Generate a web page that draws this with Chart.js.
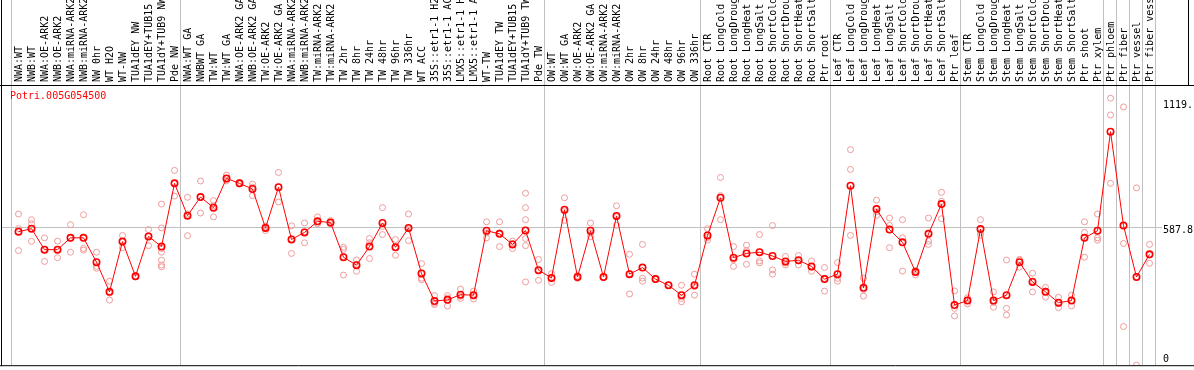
<!DOCTYPE html>
<html><head><meta charset="utf-8">
<script src="https://cdn.jsdelivr.net/npm/chart.js@4/dist/chart.umd.min.js"></script>
<style>html,body{margin:0;padding:0;background:#fff;overflow:hidden}#wrap{width:1194px;height:370px;position:relative}</style>
</head><body><div id="wrap"><canvas id="c"></canvas></div>
<script>
const geneName = "Potri.005G054500";
const categories = [
"NWA:WT","NWB:WT","NWA:OE-ARK2","NWB:OE-ARK2","NWA:miRNA-ARK2","NWB:miRNA-ARK2","NW 0hr","WT H2O","WT-NW","TUA1dEY NW",
"TUA1dEY+TUB15","TUA1dY+TUB9 NW","Pde NW","NWA:WT GA","NWBWT GA","TW:WT","TW:WT GA","NWA:OE-ARK2 GA","NWB:OE-ARK2 GA","TW:OE-ARK2",
"TW:OE-ARK2 GA","NWA:miRNA-ARK2","NWB:miRNA-ARK2","TW:miRNA-ARK2","TW:miRNA-ARK2","TW 2hr","TW 8hr","TW 24hr","TW 48hr","TW 96hr",
"TW 336hr","WT ACC","35S::etr1-1 H2O","35S::etr1-1 ACC","LMX5::etr1-1 H2O","LMX5::etr1-1 ACC","WT-TW","TUA1dEY TW","TUA1dEY+TUB15","TUA1dY+TUB9 TW",
"Pde TW","OW:WT","OW:WT GA","OW:OE-ARK2","OW:OE-ARK2 GA","OW:miRNA-ARK2","OW:miRNA-ARK2","OW 2hr","OW 8hr","OW 24hr",
"OW 48hr","OW 96hr","OW 336hr","Root CTR","Root LongCold","Root LongDrought","Root LongHeat","Root LongSalt","Root ShortCold","Root ShortDrought",
"Root ShortHeat","Root ShortSalt","Ptr root","Leaf CTR","Leaf LongCold","Leaf LongDrought","Leaf LongHeat","Leaf LongSalt","Leaf ShortCold","Leaf ShortDrought",
"Leaf ShortHeat","Leaf ShortSalt","Ptr leaf","Stem CTR","Stem LongCold","Stem LongDrought","Stem LongHeat","Stem LongSalt","Stem ShortCold","Stem ShortDrought",
"Stem ShortHeat","Stem ShortSalt","Ptr shoot","Ptr xylem","Ptr phloem","Ptr fiber","Ptr vessel","Ptr fiber vessel"];
const meanValues = [
566,579,490,490,540,540,437,311,524,377,
546,503,771,634,713,668,792,771,747,582,
755,533,563,610,605,458,424,503,603,500,
582,389,272,277,299,297,570,557,512,571,
403,370,659,374,570,374,633,386,414,365,
339,297,339,550,710,456,474,479,463,440,
445,419,365,386,761,328,662,575,521,395,
557,683,255,274,577,274,297,437,353,311,
265,274,540,570,990,592,374,470];
const replicateValues = [
[641,579,486],[617,600,525],[540,490,440],[526,490,456],[596,540,479],[638,495,488],[479,419,411],[356,306,276],[550,524,498],[378,377,375],
[575,546,507],[683,582,495,479,445,425,417],[826,771,717],[712,641,549],[781,712,645],[698,676,629],[806,790,782],[775,771,768],[768,755,719],[590,586,571],
[817,755,692],[591,535,474],[603,566,519],[629,601,600],[613,601,600],[500,491,382],[446,428,398],[537,519,452],[668,588,554],[533,500,466],
[641,578,528],[431,369,362],[295,263,257],[295,285,251],[323,292,283],[314,296,281],[608,561,540],[608,561,503],[526,516,495],[729,668,617,571,537,507,353],
[448,401,360],[388,369,351],[710,654,614],[380,373,368],[603,561,545],[375,374,372],[676,629,593],[470,387,302],[512,369,356],[368,365,363],
[340,339,338],[339,283,269],[386,333,297],[579,541,530],[796,719,617],[503,447,419],[509,486,428],[554,442,434],[592,404,386],[461,433,425],
[465,445,425],[442,416,398],[414,368,314],[435,368,356],[914,830,550],[369,321,293],[700,651,635],[624,593,498],[617,540,399],[402,398,383],
[624,526,512],[733,695,621],[315,241,209],[286,276,260],[617,561,551],[311,266,246],[446,241,213],[449,445,416],[390,357,311],[330,314,288],
[288,262,244],[297,275,251],[608,563,458],[641,540,530],[1132,1061,771],[1095,516,164],[752,376,0],[512,467,432]];
const groupStarts = [0,13,41,53,63,73,84,85,86,87,88];
const yTickValues = [1119, 587.8, 0];
const yTickLabels = ["1119.", "587.8", "0"];
const yMax = 1188;
const gridValue = 587.8;

const FONT = "'DejaVu Sans Mono', monospace";
const maxReps = Math.max(...replicateValues.map(r => r.length));
const repDatasets = [];
for (let k = 0; k < maxReps; k++) {
  repDatasets.push({
    label: 'rep' + k,
    data: replicateValues.map(r => (k < r.length ? r[k] : null)),
    showLine: false,
    pointRadius: 3,
    pointHoverRadius: 3,
    pointBorderWidth: 1,
    pointBorderColor: '#ee9a9a',
    pointBackgroundColor: 'rgba(0,0,0,0)',
    borderColor: '#ee9a9a'
  });
}

const decor = {
  id: 'decor',
  beforeDatasetsDraw(chart) {
    const {ctx, chartArea: a, scales: {x, y}} = chart;
    ctx.save();
    ctx.strokeStyle = '#c0c0c0';
    ctx.lineWidth = 1;
    groupStarts.forEach(k => {
      const px = Math.round(x.getPixelForValue(k - 0.5)) - 0.5;
      ctx.beginPath(); ctx.moveTo(px, 0); ctx.lineTo(px, a.bottom); ctx.stroke();
    });
    const gy = Math.round(y.getPixelForValue(gridValue)) + 0.5;
    ctx.beginPath(); ctx.moveTo(1, gy); ctx.lineTo(a.right + 6, gy); ctx.stroke();
    ctx.restore();
  },
  afterDraw(chart) {
    const {ctx, chartArea: a, scales: {y}, width} = chart;
    ctx.save();
    ctx.strokeStyle = '#000';
    ctx.lineWidth = 1;
    ctx.beginPath();
    ctx.moveTo(1.5, 0); ctx.lineTo(1.5, a.bottom + 1);
    ctx.moveTo(0, a.top + 0.5); ctx.lineTo(width, a.top + 0.5);
    ctx.moveTo(0, a.bottom + 0.5); ctx.lineTo(width, a.bottom + 0.5);
    ctx.moveTo(1188.5, 0); ctx.lineTo(1188.5, a.top);
    ctx.stroke();
    ctx.font = '10px ' + FONT;
    ctx.fillStyle = '#ff0000';
    ctx.textAlign = 'left';
    ctx.textBaseline = 'top';
    ctx.fillText(geneName, 10, a.top + 6);
    ctx.fillStyle = '#000';
    yTickValues.forEach((v, i) => {
      const py = y.getPixelForValue(v);
      if (v === 0) { ctx.textBaseline = 'bottom'; ctx.fillText(yTickLabels[i], a.right + 7, py - 1); }
      else { ctx.textBaseline = 'top'; ctx.fillText(yTickLabels[i], a.right + 7, py - 1); }
    });
    ctx.restore();
  }
};

new Chart(document.getElementById('c'), {
  type: 'line',
  data: {
    labels: categories,
    datasets: [{
      label: geneName,
      data: meanValues,
      borderColor: '#ff0000',
      borderWidth: 1,
      pointRadius: 3.2,
      pointHoverRadius: 3.2,
      pointBorderWidth: 1.6,
      pointBorderColor: '#ff0000',
      pointBackgroundColor: 'rgba(0,0,0,0)',
      fill: false,
      tension: 0
    }, ...repDatasets]
  },
  options: {
    responsive: true,
    maintainAspectRatio: false,
    animation: false,
    events: [],
    layout: {padding: {left: 12, right: 0, top: 0, bottom: 2}},
    plugins: {legend: {display: false}, tooltip: {enabled: false}, title: {display: false}},
    scales: {
      x: {
        type: 'category',
        position: 'top',
        offset: true,
        grid: {display: false, drawTicks: false},
        border: {display: false},
        ticks: {
          autoSkip: false, minRotation: 90, maxRotation: 90, padding: 3, labelOffset: 13,
          color: '#000', font: {family: FONT, size: 10}
        },
        afterFit(s) { s.height = 85; }
      },
      y: {
        position: 'right',
        min: 0, max: yMax,
        grid: {display: false, drawTicks: false},
        border: {display: false},
        ticks: {display: false},
        afterFit(s) { s.width = 38; }
      }
    }
  },
  plugins: [decor]
});
</script>
</body></html>
